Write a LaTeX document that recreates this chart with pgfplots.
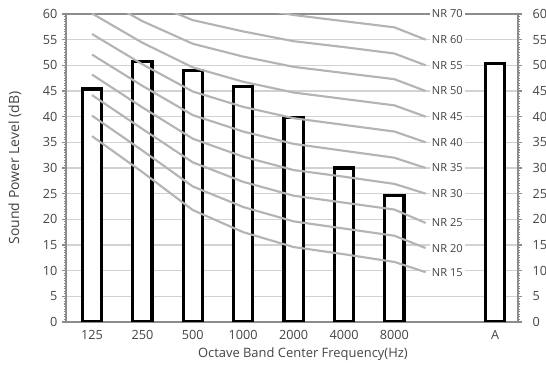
\documentclass[border=0pt]{standalone}
\usepackage{pgfplots}
\pgfplotsset{compat=1.18}
\usepackage{fontspec}
\setmainfont{Open Sans}
\usetikzlibrary{calc}
\definecolor{axgray}{RGB}{140,140,140}
\definecolor{grd}{RGB}{210,210,210}
\definecolor{nrc}{RGB}{180,180,180}
\definecolor{txt}{RGB}{68,68,68}
\begin{document}
\begin{tikzpicture}
\begin{axis}[
 scale only axis, width=339pt, height=231pt,
 xmin=-0.516, xmax=8.452, ymin=0, ymax=60,
 clip mode=individual,
 axis line style={axgray, line width=1.8pt},
 xtick={0,1,2,3,4,5,6,8},
 xticklabels={125,250,500,1000,2000,4000,8000,A},
 x tick style={draw=none},
 ytick={0,5,...,60},
 minor y tick num=9,
 ytick pos=left,
 tick align=outside,
 y tick style={axgray, line width=0.8pt},
 major tick length=3pt, minor tick length=1.8pt,
 ymajorgrids, grid style={grd, line width=1pt},
 tick label style={font=\fontsize{9.5}{11}\selectfont, text=txt},
 /pgf/number format/assume math mode=true,
 xlabel={Octave Band Center Frequency(Hz)},
 ylabel={Sound Power Level (dB)},
 xlabel style={font=\fontsize{9.7}{11}\selectfont, text=txt, at={(axis description cs:0.524,-0.104)}, anchor=center},
 ylabel style={font=\fontsize{10.5}{12}\selectfont, text=txt, at={(axis description cs:-0.113,0.5)}, anchor=center},
]
\addplot[ybar, bar width=14.5pt, fill=white, draw=black, line width=2.4pt, line join=miter]
 coordinates {(0,45.4)(1,50.8)(2,49.0)(3,45.9)(4,39.8)(5,30.0)(6,24.6)(8,50.4)};
% NR curves
\addplot[nrc, line width=1.6pt] coordinates {(0,36.2)(1,29.2)(2,21.8)(3,17.5)(4,14.6)(5,13.2)(6,11.7)(6.62,9.7)};
\addplot[nrc, line width=1.6pt] coordinates {(0,40.2)(1,33.4)(2,26.4)(3,22.4)(4,19.6)(5,18.2)(6,16.8)(6.62,14.4)};
\addplot[nrc, line width=1.6pt] coordinates {(0,44.2)(1,37.6)(2,31.1)(3,27.3)(4,24.6)(5,23.25)(6,21.9)(6.62,19.3)};
\addplot[nrc, line width=1.6pt] coordinates {(0,48.2)(1,41.8)(2,35.7)(3,32.2)(4,29.6)(5,28.3)(6,26.9)(6.62,25.0)};
\addplot[nrc, line width=1.6pt] coordinates {(0,52.1)(1,46.0)(2,40.3)(3,37.1)(4,34.7)(5,33.35)(6,32.0)(6.62,30.0)};
\addplot[nrc, line width=1.6pt] coordinates {(0,56.1)(1,50.2)(2,44.9)(3,41.9)(4,39.7)(5,38.4)(6,37.1)(6.62,35.0)};
\addplot[nrc, line width=1.6pt] coordinates {(0,60.1)(1,54.4)(2,49.6)(3,46.8)(4,44.7)(5,43.45)(6,42.2)(6.62,40.0)};
\addplot[nrc, line width=1.6pt] coordinates {(0,64.1)(1,58.6)(2,54.2)(3,51.7)(4,49.7)(5,48.5)(6,47.3)(6.62,45.0)};
\addplot[nrc, line width=1.6pt] coordinates {(0,68.1)(1,62.8)(2,58.8)(3,56.6)(4,54.7)(5,53.55)(6,52.3)(6.62,50.0)};
\addplot[nrc, line width=1.6pt] coordinates {(0,72.1)(1,67.0)(2,63.4)(3,61.5)(4,59.8)(5,58.6)(6,57.4)(6.62,55.0)};
\tikzset{nrl/.style={fill=white, inner sep=1.5pt, font=\fontsize{8.3}{9}\selectfont, text=txt}}
\node[nrl] at (axis cs:7.05,60) {NR 70};
\node[nrl] at (axis cs:7.05,55) {NR 60};
\node[nrl] at (axis cs:7.05,50) {NR 55};
\node[nrl] at (axis cs:7.05,45) {NR 50};
\node[nrl] at (axis cs:7.05,40) {NR 45};
\node[nrl] at (axis cs:7.05,35) {NR 40};
\node[nrl] at (axis cs:7.05,30) {NR 35};
\node[nrl] at (axis cs:7.05,25) {NR 30};
\node[nrl] at (axis cs:7.05,19.3) {NR 25};
\node[nrl] at (axis cs:7.05,14.4) {NR 20};
\node[nrl] at (axis cs:7.05,9.7) {NR 15};
\end{axis}
\begin{axis}[
 scale only axis, width=339pt, height=231pt,
 xmin=-0.516, xmax=8.452, ymin=0, ymax=60,
 axis y line*=right, axis x line=none,
 axis line style={axgray, line width=1.8pt},
 ytick={0,5,...,60},
 minor y tick num=9,
 tick align=outside,
 y tick style={axgray, line width=0.8pt},
 major tick length=3pt, minor tick length=1.8pt,
 tick label style={font=\fontsize{9.5}{11}\selectfont, text=txt, xshift=4.5pt},
 /pgf/number format/assume math mode=true,
]
\addplot[draw=none] coordinates {(0,0)};
\end{axis}
\pgfresetboundingbox
\path[use as bounding box] ($(current axis.south west)+(-49.5pt,-32.25pt)$) rectangle ($(current axis.north east)+(21pt,10.5pt)$);
\end{tikzpicture}
\end{document}
